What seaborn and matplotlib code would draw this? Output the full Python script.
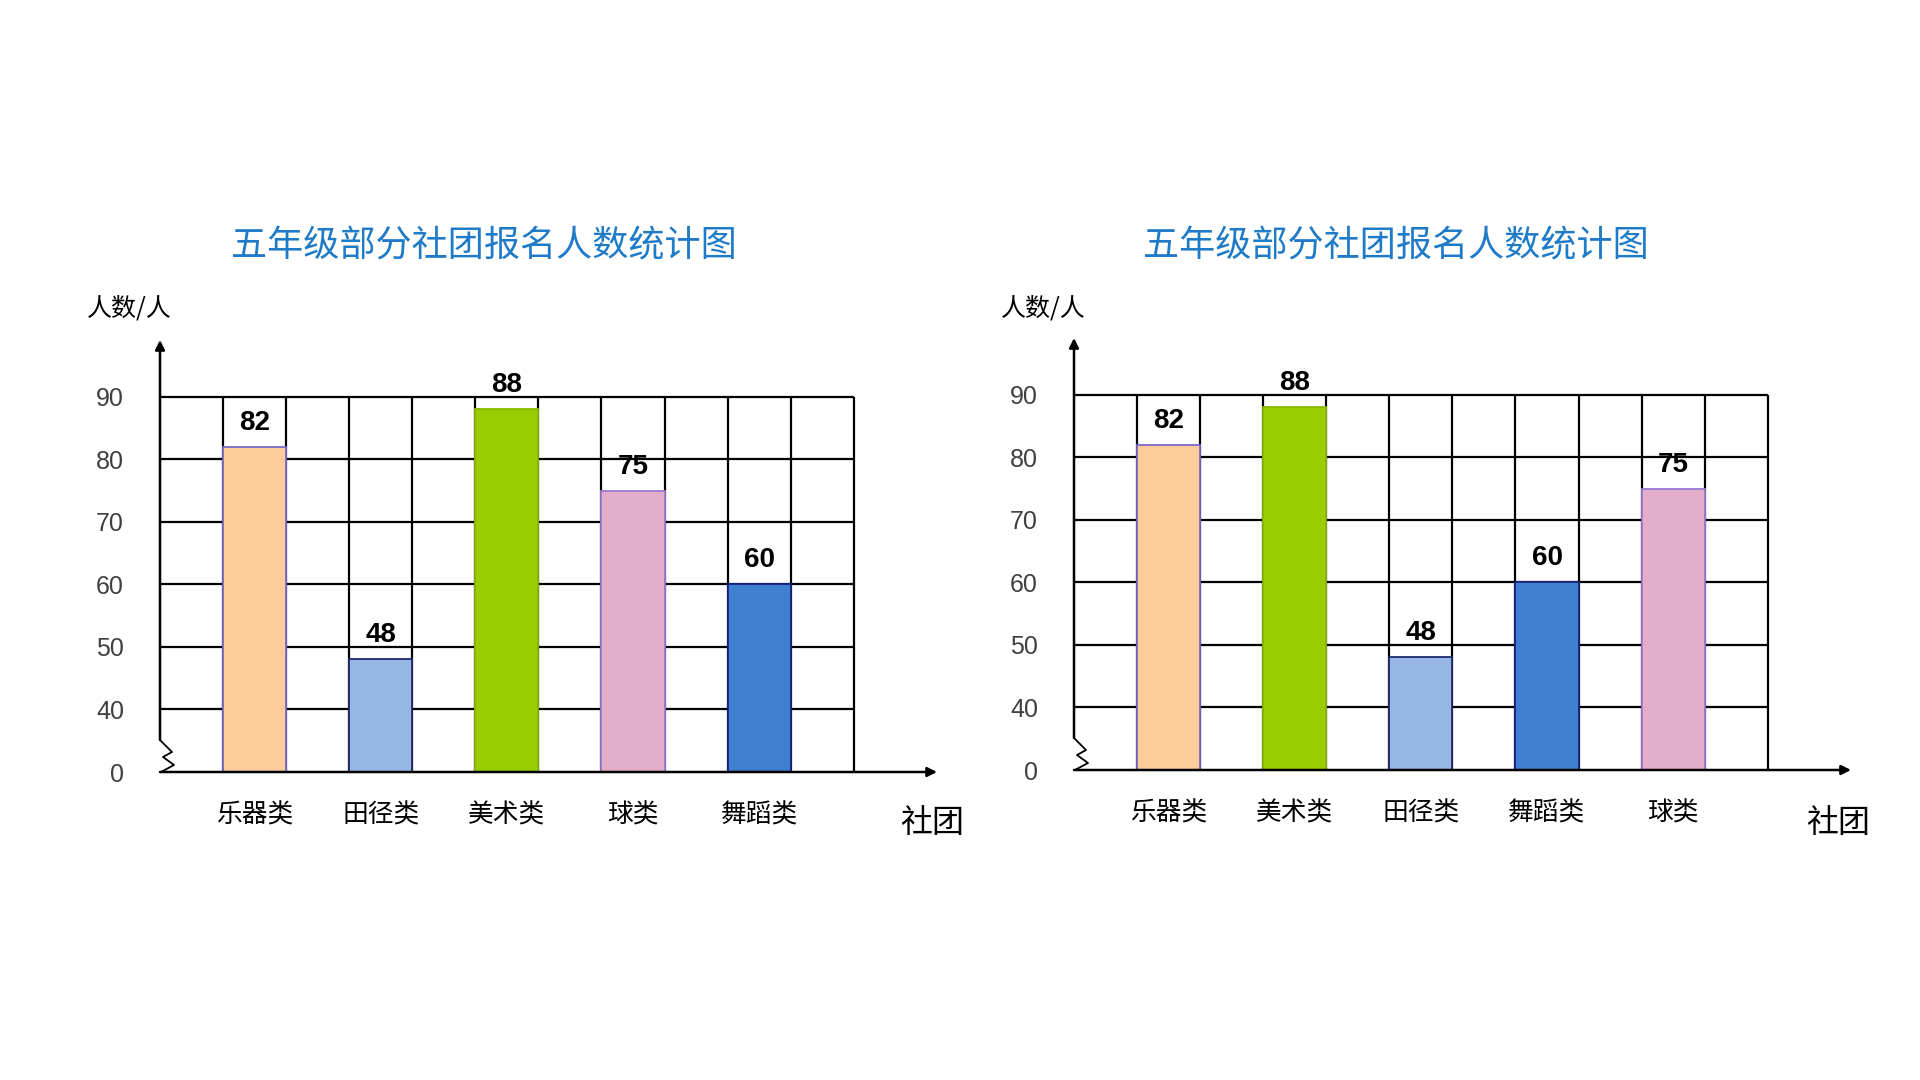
import numpy as np
import matplotlib
matplotlib.use("Agg")
import matplotlib.pyplot as plt
import seaborn as sns

# 数据
title_text = "五年级部分社团报名人数统计图"
left_clubs = ["乐器类", "田径类", "美术类", "球类", "舞蹈类"]
left_counts = [82, 48, 88, 75, 60]
right_clubs = ["乐器类", "美术类", "田径类", "舞蹈类", "球类"]
right_counts = [82, 88, 48, 60, 75]
y_ticks = [0, 40, 50, 60, 70, 80, 90]

club_colors = {
    "乐器类": "#FECC9B",
    "田径类": "#96B7E4",
    "美术类": "#9ACD00",
    "球类": "#E4AECB",
    "舞蹈类": "#3E7FCF",
}
club_edges = {
    "乐器类": "#7B68C8",
    "田径类": "#1F2A6B",
    "美术类": "#8AB800",
    "球类": "#9B7BD0",
    "舞蹈类": "#1A237E",
}

sns.set_theme(style="white")
plt.rcParams["font.family"] = ["Noto Sans CJK SC", "DejaVu Sans"]

W, H = 1920, 1080
fig = plt.figure(figsize=(19.2, 10.8), dpi=100)


# 0-40 压缩成一格 (断轴)
def fwd(v):
    v = np.asarray(v, dtype=float)
    return np.where(v <= 40, v / 40.0, 1 + (v - 40) / 10.0)


def inv(t):
    t = np.asarray(t, dtype=float)
    return np.where(t <= 1, t * 40.0, 40 + (t - 1) * 10.0)


def draw_chart(x0, base, clubs, counts, title_x, unit_x):
    # x0: 纵轴像素位置, base: 横轴像素位置
    ax_w, ax_h = 777, 432
    ax = fig.add_axes([x0 / W, (H - base) / H, ax_w / W, ax_h / H])
    sns.barplot(x=clubs, y=counts, hue=clubs, palette=club_colors,
                width=0.5, ax=ax, legend=False, saturation=1, zorder=3)
    for patch, c in zip(ax.patches, clubs):
        patch.set_edgecolor(club_edges[c])
        patch.set_linewidth(1.3)
    ax.set_yscale("function", functions=(fwd, inv))
    ax.set_xlim(-0.75, 5.41)
    ax.set_ylim(0, 99.1)

    # 网格
    ax.hlines(y_ticks[1:], -0.75, 4.75, color="black", lw=1.6, zorder=2)
    xs = -0.75 + 0.5 * np.arange(1, 12)
    ax.vlines(xs, 0, 90, color="black", lw=1.6, zorder=2)

    for sp in ax.spines.values():
        sp.set_visible(False)

    # 坐标轴箭头
    zig = np.array([[0, 32], [12, 20], [3, 15], [14, 7], [1, 0]], dtype=float)
    ax.plot(zig[:, 0] / ax_w, zig[:, 1] / ax_h, color="black", lw=1.3,
            transform=ax.transAxes, clip_on=False, zorder=4)
    ax.annotate("", xy=(1, 0), xytext=(0, 0), xycoords="axes fraction",
                arrowprops=dict(arrowstyle="-|>", color="black", lw=1.8,
                                mutation_scale=14, shrinkA=0, shrinkB=0), zorder=4)
    ax.annotate("", xy=(0, 1), xytext=(0, 32 / ax_h), xycoords="axes fraction",
                arrowprops=dict(arrowstyle="-|>", color="black", lw=1.8,
                                mutation_scale=14, shrinkA=0, shrinkB=0), zorder=4)

    ax.set_yticks(y_ticks)
    ax.set_yticklabels([str(v) for v in y_ticks], fontsize=18, color="#404040",
                       family=["Liberation Sans", "DejaVu Sans"])
    ax.yaxis.set_minor_locator(matplotlib.ticker.NullLocator())
    ax.tick_params(axis="y", length=0, pad=26)
    ax.tick_params(axis="x", length=0, pad=22, labelsize=18.5, labelcolor="black")
    ax.set_xlabel("")
    ax.set_ylabel("")

    for cont in ax.containers:
        ax.bar_label(cont, fmt="%d", padding=8, fontsize=20, fontweight="bold",
                     family=["Liberation Sans", "DejaVu Sans"], color="black")

    fig.text(title_x / W, 1 - 246 / H, title_text, ha="center", va="center",
             fontsize=26, color="#1F7BC8")
    fig.text((x0 - 73) / W, 1 - 308 / H, "人数/人", ha="left", va="center",
             fontsize=18, color="black")
    fig.text(unit_x / W, 1 - 823 / H, "社团", ha="center", va="center",
             fontsize=23, color="black")
    return ax


draw_chart(160, 772, left_clubs, left_counts, 484, 932)
draw_chart(1074, 770, right_clubs, right_counts, 1396, 1838)

fig.savefig("out.png", dpi=100, facecolor="white")
